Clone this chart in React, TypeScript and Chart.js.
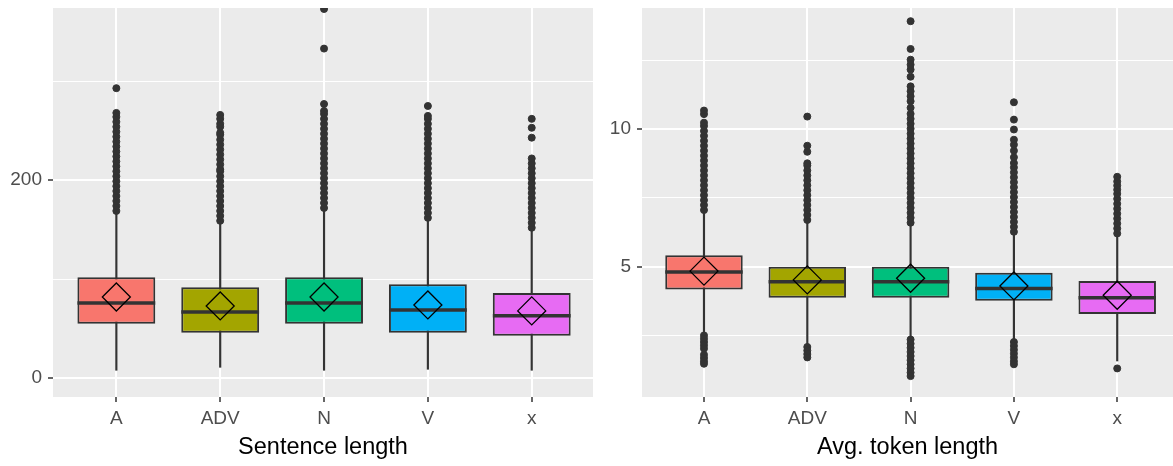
import React, { useEffect, useRef } from 'react';
import { Chart, registerables } from 'chart.js';

Chart.register(...registerables);

const categories = ['A', 'ADV', 'N', 'V', 'x'];
const boxColors = ['#F8766D', '#A3A500', '#00BF7D', '#00B0F6', '#E76BF3'];

// ---- Panel 1: Sentence length ----
const sentTitle = 'Sentence length';
const sentWhiskerLow = [8, 11, 8, 9, 8];
const sentQ1 = [55, 46, 55, 46, 43];
const sentMedian = [76, 67, 76, 69, 63];
const sentMean = [82, 73, 82, 74, 68];
const sentQ3 = [102, 92, 102, 95, 86];
const sentWhiskerHigh = [167, 157, 171, 161, 150];
const sentOutA = [169, 174, 179, 184, 189, 194, 199, 204, 209, 214, 219, 224, 229, 234, 239, 244, 249, 254, 259, 264, 268, 293];
const sentOutADV = [159, 164, 169, 174, 179, 184, 189, 194, 199, 204, 209, 211, 216, 221, 226, 231, 236, 241, 246, 248, 254, 257, 262, 266];
const sentOutN = [172, 177, 182, 187, 192, 197, 202, 207, 212, 217, 222, 227, 232, 237, 242, 247, 252, 257, 262, 267, 270, 277, 333, 373];
const sentOutV = [162, 167, 172, 177, 182, 187, 192, 197, 202, 207, 212, 217, 222, 227, 232, 237, 242, 247, 252, 257, 262, 265, 275];
const sentOutX = [152, 157, 162, 167, 172, 177, 182, 187, 192, 197, 202, 207, 212, 217, 222, 243, 253, 262];
const sentYTicks = [0, 100, 200, 300];
const sentYLabels = ['0', '', '200', ''];

// ---- Panel 2: Avg. token length ----
const tokTitle = 'Avg. token length';
const tokWhiskerLow = [2.6, 2.15, 2.4, 2.33, 1.57];
const tokQ1 = [4.17, 3.87, 3.87, 3.76, 3.28];
const tokMedian = [4.81, 4.45, 4.45, 4.21, 3.87];
const tokMean = [4.84, 4.52, 4.58, 4.3, 3.96];
const tokQ3 = [5.42, 5.0, 5.0, 4.78, 4.48];
const tokWhiskerHigh = [7.0, 6.65, 6.55, 6.22, 6.15];
const tokOutA = [2.5, 2.38, 2.26, 2.14, 2.02, 1.8, 1.68, 1.56, 1.47, 7.06, 7.24, 7.42, 7.6, 7.78, 7.96, 8.14, 8.32, 8.5, 8.68, 8.86, 9.04, 9.22, 9.4, 9.58, 9.76, 9.94, 10.12, 10.24, 10.55, 10.68];
const tokOutADV = [2.08, 1.95, 1.82, 1.7, 6.7, 6.88, 7.06, 7.24, 7.42, 7.6, 7.78, 7.96, 8.14, 8.32, 8.5, 8.68, 8.76, 9.18, 9.4, 10.46];
const tokOutN = [2.35, 2.2, 2.05, 1.9, 1.75, 1.6, 1.45, 1.3, 1.15, 1.02, 6.6, 6.78, 6.96, 7.14, 7.32, 7.5, 7.68, 7.86, 8.04, 8.22, 8.4, 8.58, 8.76, 8.94, 9.12, 9.3, 9.48, 9.66, 9.84, 10.02, 10.2, 10.38, 10.56, 10.78, 11.02, 11.2, 11.38, 11.56, 11.91, 12.17, 12.35, 12.53, 12.92, 13.93];
const tokOutV = [2.26, 2.12, 1.98, 1.84, 1.7, 1.56, 1.45, 6.27, 6.45, 6.63, 6.81, 6.99, 7.17, 7.35, 7.53, 7.71, 7.89, 8.07, 8.25, 8.43, 8.61, 8.77, 8.98, 9.22, 9.44, 9.62, 9.99, 10.35, 10.98];
const tokOutX = [1.3, 6.21, 6.39, 6.57, 6.75, 6.93, 7.11, 7.29, 7.47, 7.65, 7.8, 7.95, 8.1, 8.27];
const tokYTicks = [2.5, 5, 7.5, 10, 12.5];
const tokYLabels = ['', '5', '', '10', ''];

const INK = '#333333';
const TICK_TEXT = '#4D4D4D';
const FONT = "'Liberation Sans', Arial, sans-serif";

const panelBg = {
  id: 'panelBg',
  beforeDraw(chart: any) {
    const { ctx, chartArea: a } = chart;
    ctx.save();
    ctx.fillStyle = '#EBEBEB';
    ctx.fillRect(a.left, a.top, a.right - a.left, a.bottom - a.top);
    ctx.restore();
  },
};

interface PanelSpec {
  title: string;
  low: number[];
  q1: number[];
  median: number[];
  mean: number[];
  q3: number[];
  high: number[];
  outliers: number[][];
  yTicks: number[];
  yLabels: string[];
  yMin: number;
  yMax: number;
  xMin: number;
  xMax: number;
  yAxisWidth: number;
  padRight: number;
  medianHalf: number;
}

function buildConfig(p: PanelSpec): any {
  const whiskers = categories.map((_, i) => ({ x: i + 1, y: [p.low[i], p.high[i]] }));
  const boxes = categories.map((_, i) => ({ x: i + 1, y: [p.q1[i], p.q3[i]] }));
  const medians = categories.map((_, i) => ({ x: i + 1, y: p.median[i] }));
  const means = categories.map((_, i) => ({ x: i + 1, y: p.mean[i] }));
  const outs = categories.flatMap((_, i) => p.outliers[i].map((v) => ({ x: i + 1, y: v })));
  const isMajorY = (ctx: any) => {
    const idx = p.yTicks.indexOf(ctx.tick ? ctx.tick.value : NaN);
    return idx >= 0 && p.yLabels[idx] !== '';
  };
  return {
    type: 'scatter',
    data: {
      datasets: [
        {
          type: 'bar',
          data: whiskers,
          backgroundColor: INK,
          borderWidth: 0,
          barThickness: 1.5,
          grouped: false,
          order: 5,
        },
        {
          type: 'bar',
          data: boxes,
          backgroundColor: boxColors,
          borderColor: INK,
          borderWidth: 2,
          borderSkipped: false,
          barPercentage: 0.75,
          categoryPercentage: 1,
          grouped: false,
          order: 4,
        },
        {
          type: 'scatter',
          data: medians,
          pointStyle: 'line',
          pointRadius: p.medianHalf,
          pointBorderWidth: 3.5,
          pointBorderColor: INK,
          order: 3,
        },
        {
          type: 'scatter',
          data: means,
          pointStyle: 'rectRot',
          pointRadius: 14,
          pointBorderWidth: 1.3,
          pointBorderColor: '#000000',
          pointBackgroundColor: 'rgba(0,0,0,0)',
          order: 2,
        },
        {
          type: 'scatter',
          data: outs,
          pointRadius: 3.5,
          pointBorderWidth: 1,
          pointBackgroundColor: INK,
          pointBorderColor: INK,
          clip: 0,
          order: 1,
        },
      ],
    },
    options: {
      responsive: false,
      animation: false,
      events: [],
      layout: { autoPadding: false, padding: { top: 8, right: p.padRight, bottom: 0, left: 0 } },
      plugins: { legend: { display: false }, tooltip: { enabled: false } },
      scales: {
        x: {
          type: 'linear',
          min: p.xMin,
          max: p.xMax,
          offset: false,
          border: { display: false },
          grid: {
            offset: false,
            color: '#FFFFFF',
            lineWidth: 2,
            tickColor: INK,
            tickLength: 5,
            tickWidth: 1.5,
          },
          afterBuildTicks: (s: any) => {
            s.ticks = categories.map((_, i) => ({ value: i + 1 }));
          },
          afterFit: (s: any) => {
            s.height = 69;
            s.paddingLeft = 0;
            s.paddingRight = 0;
          },
          ticks: {
            autoSkip: false,
            maxRotation: 0,
            padding: 5,
            color: TICK_TEXT,
            font: { family: FONT, size: 19 },
            callback: (v: any) => categories[Math.round(v) - 1],
          },
          title: {
            display: true,
            text: p.title,
            color: '#000000',
            font: { family: FONT, size: 23.5 },
            padding: { top: 0, bottom: 4 },
          },
        },
        y: {
          type: 'linear',
          min: p.yMin,
          max: p.yMax,
          border: { display: false },
          grid: {
            color: '#FFFFFF',
            lineWidth: (ctx: any) => (isMajorY(ctx) ? 2 : 1.1),
            tickColor: (ctx: any) => (isMajorY(ctx) ? INK : 'rgba(0,0,0,0)'),
            tickLength: 5,
            tickWidth: 1.5,
          },
          afterBuildTicks: (s: any) => {
            s.ticks = p.yTicks.map((v) => ({ value: v }));
          },
          afterFit: (s: any) => {
            s.width = p.yAxisWidth;
            s.paddingTop = 0;
            s.paddingBottom = 0;
          },
          ticks: {
            autoSkip: false,
            padding: 6,
            color: TICK_TEXT,
            font: { family: FONT, size: 19 },
            callback: (_v: any, i: number) => p.yLabels[i],
          },
        },
      },
    },
    plugins: [panelBg],
  };
}

function Panel({ spec, left, width }: { spec: PanelSpec; left: number; width: number }) {
  const ref = useRef<HTMLCanvasElement | null>(null);
  useEffect(() => {
    if (!ref.current) return;
    const chart = new Chart(ref.current, buildConfig(spec));
    return () => chart.destroy();
  }, [spec]);
  return (
    <canvas
      ref={ref}
      width={width}
      height={466}
      style={{ position: 'absolute', left, top: 0, width, height: 466 }}
    />
  );
}

const sentSpec: PanelSpec = {
  title: sentTitle,
  low: sentWhiskerLow,
  q1: sentQ1,
  median: sentMedian,
  mean: sentMean,
  q3: sentQ3,
  high: sentWhiskerHigh,
  outliers: [sentOutA, sentOutADV, sentOutN, sentOutV, sentOutX],
  yTicks: sentYTicks,
  yLabels: sentYLabels,
  yMin: -19,
  yMax: 374,
  xMin: 0.39,
  xMax: 5.59,
  yAxisWidth: 53,
  padRight: 3,
  medianHalf: 38.9,
};

const tokSpec: PanelSpec = {
  title: tokTitle,
  low: tokWhiskerLow,
  q1: tokQ1,
  median: tokMedian,
  mean: tokMean,
  q3: tokQ3,
  high: tokWhiskerHigh,
  outliers: [tokOutA, tokOutADV, tokOutN, tokOutV, tokOutX],
  yTicks: tokYTicks,
  yLabels: tokYLabels,
  yMin: 0.26,
  yMax: 14.41,
  xMin: 0.4,
  xMax: 5.54,
  yAxisWidth: 46,
  padRight: 0,
  medianHalf: 38.7,
};

export default function App() {
  return (
    <div style={{ position: 'fixed', left: 0, top: 0, width: 1173, height: 466, background: '#FFFFFF', overflow: 'hidden' }}>
      <Panel spec={sentSpec} left={0} width={596} />
      <Panel spec={tokSpec} left={596} width={577} />
    </div>
  );
}
